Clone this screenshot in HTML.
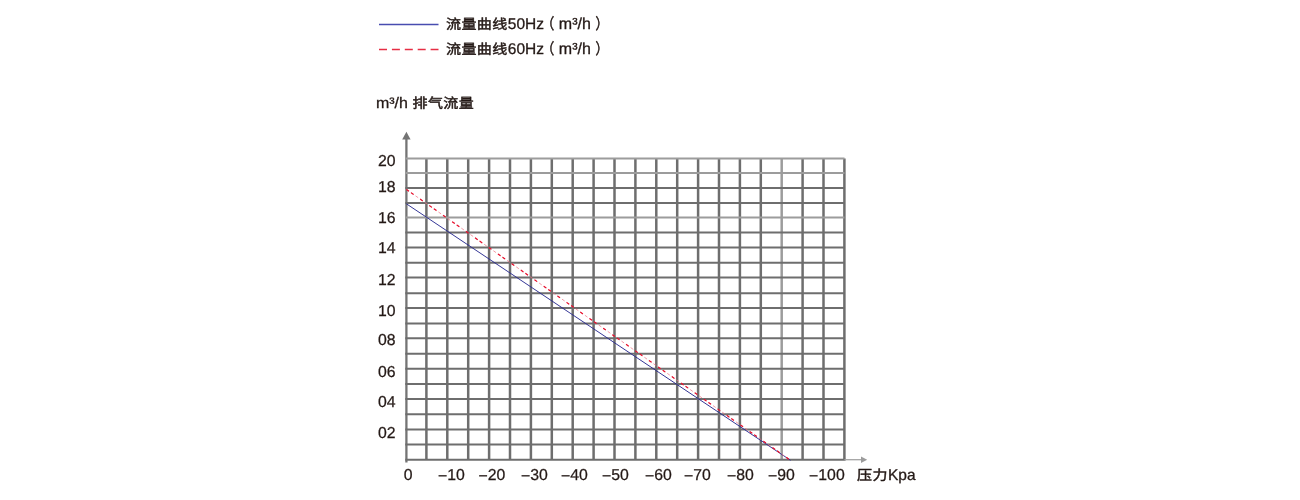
<!DOCTYPE html><html lang="zh-CN"><head><meta charset="utf-8"><title>流量曲线</title><style>html,body{margin:0;padding:0;background:#fff}svg{display:block}text{text-rendering:geometricPrecision;font-family:"Liberation Sans","Noto Sans CJK SC",sans-serif;font-size:15.5px;fill:#231815;stroke:#231815;stroke-width:0.3px;paint-order:stroke}.c{font-size:15px;stroke-width:0.5px}.n{font-size:15.8px;stroke-width:0.25px}.l{font-size:16px}.h{font-size:15.5px}</style></head><body>
<svg width="1300" height="500" viewBox="0 0 1300 500">
<rect width="1300" height="500" fill="#fff"/>
<line x1="426.40" y1="158.50" x2="426.40" y2="459.70" stroke="#6e6e6e" stroke-width="2.5"/>
<line x1="447.30" y1="158.50" x2="447.30" y2="459.70" stroke="#6e6e6e" stroke-width="2.5"/>
<line x1="468.20" y1="158.50" x2="468.20" y2="459.70" stroke="#6e6e6e" stroke-width="2.5"/>
<line x1="489.10" y1="158.50" x2="489.10" y2="459.70" stroke="#6e6e6e" stroke-width="2.5"/>
<line x1="510.00" y1="158.50" x2="510.00" y2="459.70" stroke="#6e6e6e" stroke-width="2.5"/>
<line x1="530.90" y1="158.50" x2="530.90" y2="459.70" stroke="#6e6e6e" stroke-width="2.5"/>
<line x1="551.80" y1="158.50" x2="551.80" y2="459.70" stroke="#6e6e6e" stroke-width="2.5"/>
<line x1="572.70" y1="158.50" x2="572.70" y2="459.70" stroke="#6e6e6e" stroke-width="2.5"/>
<line x1="593.60" y1="158.50" x2="593.60" y2="459.70" stroke="#6e6e6e" stroke-width="2.5"/>
<line x1="614.50" y1="158.50" x2="614.50" y2="459.70" stroke="#6e6e6e" stroke-width="2.5"/>
<line x1="635.40" y1="158.50" x2="635.40" y2="459.70" stroke="#6e6e6e" stroke-width="2.5"/>
<line x1="656.30" y1="158.50" x2="656.30" y2="459.70" stroke="#6e6e6e" stroke-width="2.5"/>
<line x1="677.20" y1="158.50" x2="677.20" y2="459.70" stroke="#6e6e6e" stroke-width="2.5"/>
<line x1="698.10" y1="158.50" x2="698.10" y2="459.70" stroke="#6e6e6e" stroke-width="2.5"/>
<line x1="719.00" y1="158.50" x2="719.00" y2="459.70" stroke="#6e6e6e" stroke-width="2.5"/>
<line x1="739.90" y1="158.50" x2="739.90" y2="459.70" stroke="#6e6e6e" stroke-width="2.5"/>
<line x1="760.80" y1="158.50" x2="760.80" y2="459.70" stroke="#6e6e6e" stroke-width="2.5"/>
<line x1="781.70" y1="158.50" x2="781.70" y2="459.70" stroke="#9c9c9c" stroke-width="2.5"/>
<line x1="802.60" y1="158.50" x2="802.60" y2="459.70" stroke="#6e6e6e" stroke-width="2.5"/>
<line x1="823.50" y1="158.50" x2="823.50" y2="459.70" stroke="#6e6e6e" stroke-width="2.5"/>
<line x1="844.40" y1="158.50" x2="844.40" y2="459.70" stroke="#6e6e6e" stroke-width="2.5"/>
<line x1="406.40" y1="138" x2="406.40" y2="462.5" stroke="#747474" stroke-width="2.3"/>
<polygon points="406.40,131.8 402.20,139.4 410.60,139.4" fill="#747474"/>
<line x1="405.30" y1="158.40" x2="844.50" y2="158.40" stroke="#9c9c9c" stroke-width="2"/>
<line x1="405.30" y1="173.00" x2="844.50" y2="173.00" stroke="#9c9c9c" stroke-width="2"/>
<line x1="405.30" y1="187.90" x2="844.50" y2="187.90" stroke="#6e6e6e" stroke-width="2"/>
<line x1="405.30" y1="202.90" x2="844.50" y2="202.90" stroke="#6e6e6e" stroke-width="2"/>
<line x1="405.30" y1="217.50" x2="844.50" y2="217.50" stroke="#9c9c9c" stroke-width="2"/>
<line x1="405.30" y1="232.50" x2="844.50" y2="232.50" stroke="#6e6e6e" stroke-width="2"/>
<line x1="405.30" y1="247.60" x2="844.50" y2="247.60" stroke="#6e6e6e" stroke-width="2"/>
<line x1="405.30" y1="262.80" x2="844.50" y2="262.80" stroke="#6e6e6e" stroke-width="2"/>
<line x1="405.30" y1="277.50" x2="844.50" y2="277.50" stroke="#6e6e6e" stroke-width="2"/>
<line x1="405.30" y1="293.30" x2="844.50" y2="293.30" stroke="#6e6e6e" stroke-width="2"/>
<line x1="405.30" y1="308.00" x2="844.50" y2="308.00" stroke="#6e6e6e" stroke-width="2"/>
<line x1="405.30" y1="323.60" x2="844.50" y2="323.60" stroke="#6e6e6e" stroke-width="2"/>
<line x1="405.30" y1="338.30" x2="844.50" y2="338.30" stroke="#6e6e6e" stroke-width="2"/>
<line x1="405.30" y1="353.80" x2="844.50" y2="353.80" stroke="#6e6e6e" stroke-width="2"/>
<line x1="405.30" y1="368.80" x2="844.50" y2="368.80" stroke="#6e6e6e" stroke-width="2"/>
<line x1="405.30" y1="384.00" x2="844.50" y2="384.00" stroke="#6e6e6e" stroke-width="2"/>
<line x1="405.30" y1="399.10" x2="844.50" y2="399.10" stroke="#6e6e6e" stroke-width="2"/>
<line x1="405.30" y1="414.20" x2="844.50" y2="414.20" stroke="#6e6e6e" stroke-width="2"/>
<line x1="405.30" y1="429.60" x2="844.50" y2="429.60" stroke="#6e6e6e" stroke-width="2"/>
<line x1="405.30" y1="444.60" x2="844.50" y2="444.60" stroke="#6e6e6e" stroke-width="2"/>
<line x1="405.30" y1="459.70" x2="845.60" y2="459.70" stroke="#6e6e6e" stroke-width="2"/>
<line x1="844.40" y1="459.70" x2="862" y2="459.70" stroke="#a4a4a4" stroke-width="1.3"/>
<polygon points="867.2,459.70 861,456.50 861,462.90" fill="#9c9c9c"/>
<line x1="406.40" y1="203.8" x2="790.5" y2="460.30" stroke="#2a2c90" stroke-width="0.95"/>
<line x1="406.40" y1="189.4" x2="790.5" y2="460.30" stroke="#ee6f80" stroke-width="0.7" stroke-dasharray="3.2 2.4"/>
<line x1="406.40" y1="189.4" x2="790.5" y2="460.30" stroke="#e6102d" stroke-width="1.2" stroke-dasharray="3.2 2.4 3.2 8 3.2 8"/>
<line x1="379" y1="24.5" x2="438.5" y2="24.5" stroke="#484db0" stroke-width="1.4"/>
<line x1="379" y1="49.5" x2="438.5" y2="49.5" stroke="#e62e44" stroke-width="1.45" stroke-dasharray="8 4.9"/>
<text transform="translate(446.00 28.80) scale(1 0.92)" class="c" letter-spacing="0.4">流量曲线</text>
<text x="507.80" y="29.00" class="h">50Hz</text>
<text transform="translate(541.60 29.00) scale(0.85 1)" class="c">（</text>
<text x="558.80" y="29.00" class="l">m³/h</text>
<text transform="translate(595.40 29.00) scale(0.85 1)" class="c">）</text>
<text transform="translate(446.00 53.80) scale(1 0.92)" class="c" letter-spacing="0.4">流量曲线</text>
<text x="507.80" y="54.00" class="h">60Hz</text>
<text transform="translate(541.60 54.00) scale(0.85 1)" class="c">（</text>
<text x="558.80" y="54.00" class="l">m³/h</text>
<text transform="translate(595.40 54.00) scale(0.85 1)" class="c">）</text>
<text transform="translate(375.90 108.00) scale(1 0.95)" class="l">m³/h</text>
<text transform="translate(412.50 108.20) scale(1 0.92)" class="c" letter-spacing="0.4">排气流量</text>
<text x="377.90" y="165.80" class="n">20</text>
<text x="377.90" y="192.00" class="n">18</text>
<text x="377.90" y="223.00" class="n">16</text>
<text x="377.90" y="253.00" class="n">14</text>
<text x="377.90" y="285.00" class="n">12</text>
<text x="377.90" y="316.00" class="n">10</text>
<text x="377.90" y="345.00" class="n">08</text>
<text x="377.90" y="377.00" class="n">06</text>
<text x="377.90" y="407.00" class="n">04</text>
<text x="377.90" y="438.00" class="n">02</text>
<text x="403.80" y="480.00" class="n">0</text>
<text x="438.10" y="480.00" class="n"><tspan dy="0.8">−</tspan><tspan dy="-0.8">10</tspan></text>
<text x="478.60" y="480.00" class="n"><tspan dy="0.8">−</tspan><tspan dy="-0.8">20</tspan></text>
<text x="521.10" y="480.00" class="n"><tspan dy="0.8">−</tspan><tspan dy="-0.8">30</tspan></text>
<text x="561.10" y="480.00" class="n"><tspan dy="0.8">−</tspan><tspan dy="-0.8">40</tspan></text>
<text x="602.10" y="480.00" class="n"><tspan dy="0.8">−</tspan><tspan dy="-0.8">50</tspan></text>
<text x="645.10" y="480.00" class="n"><tspan dy="0.8">−</tspan><tspan dy="-0.8">60</tspan></text>
<text x="684.10" y="480.00" class="n"><tspan dy="0.8">−</tspan><tspan dy="-0.8">70</tspan></text>
<text x="727.10" y="480.00" class="n"><tspan dy="0.8">−</tspan><tspan dy="-0.8">80</tspan></text>
<text x="768.10" y="480.00" class="n"><tspan dy="0.8">−</tspan><tspan dy="-0.8">90</tspan></text>
<text x="809.10" y="480.00" class="n"><tspan dy="0.8">−</tspan><tspan dy="-0.8">100</tspan></text>
<text transform="translate(857.00 480.20) scale(1 0.92)" class="c" letter-spacing="0.4">压力</text>
<text x="888.00" y="480.00">Kpa</text>
</svg></body></html>
